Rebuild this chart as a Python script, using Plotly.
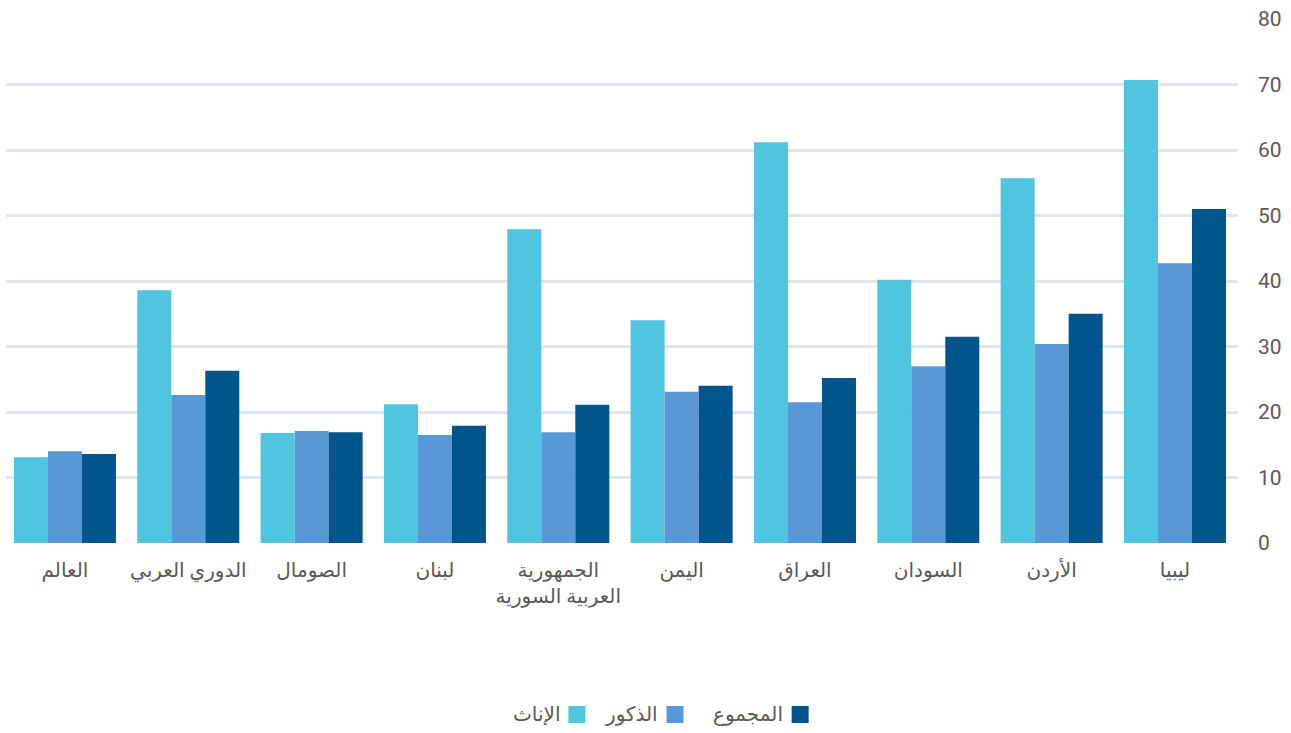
import plotly.graph_objects as go

categories = ["العالم", "الدوري العربي", "الصومال", "لبنان", "الجمهورية<br>العربية السورية",
              "اليمن", "العراق", "السودان", "الأردن", "ليبيا"]
females = [13.1, 38.6, 16.8, 21.2, 47.9, 34.0, 61.2, 40.2, 55.7, 70.7]
males = [14.0, 22.6, 17.1, 16.5, 16.9, 23.1, 21.5, 27.0, 30.4, 42.7]
total = [13.6, 26.3, 16.9, 17.9, 21.1, 24.0, 25.2, 31.5, 35.0, 51.0]
series_names = ["الإناث", "الذكور", "المجموع"]
colors = ["#4fc5e0", "#5898d6", "#00558b"]
y_ticks = [0, 10, 20, 30, 40, 50, 60, 70, 80]

FONT = "Roboto, 'Noto Sans', 'DejaVu Sans', sans-serif"

fig = go.Figure()
for name, vals, c in zip(series_names, [females, males, total], colors):
    fig.add_trace(go.Bar(x=categories, y=vals, name=name, marker=dict(color=c, line=dict(width=0)),
                         showlegend=False))

fig.update_layout(
    width=1291, height=733,
    margin=dict(l=6, r=53, t=19, b=190),
    plot_bgcolor="white", paper_bgcolor="white",
    barmode="group", bargap=0.173, bargroupgap=0,
    font=dict(family=FONT, color="#595959", size=18),
    xaxis=dict(showgrid=False, showline=False, zeroline=False, ticks="",
               range=[-0.478, 9.511],
               tickfont=dict(size=20, color="#595959"), ticklabelstandoff=13),
    yaxis=dict(side="right", range=[0, 80], tickvals=y_ticks, showgrid=True,
               gridcolor="#e1e5ec", gridwidth=3, zeroline=False, showline=False,
               tickfont=dict(size=21, color="#595959"), ticklabelstandoff=19),
)

# custom RTL legend (symbol to the right of text)
legend_items = [("الإناث", colors[0], 0.4565), ("الذكور", colors[1], 0.5361), ("المجموع", colors[2], 0.6377)]
for label, c, x0 in legend_items:
    fig.add_shape(type="rect", xref="paper", yref="paper", x0=x0, x1=x0 + 0.0138,
                  y0=-0.3435, y1=-0.311, fillcolor=c, line=dict(width=0))
    fig.add_annotation(xref="paper", yref="paper", x=x0 - 0.005, y=-0.327, text=label,
                       showarrow=False, xanchor="right", yanchor="middle",
                       font=dict(size=20, color="#595959", family=FONT))

fig.write_html("out.html")
